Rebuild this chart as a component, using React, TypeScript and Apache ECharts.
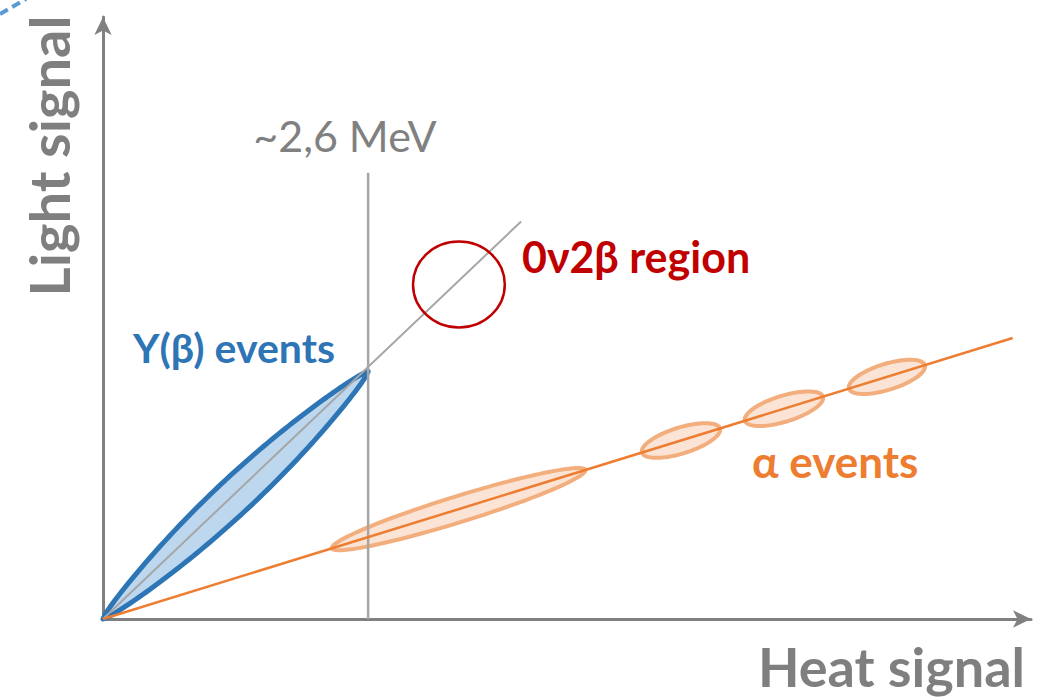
import React, { useEffect, useRef } from "react";
import * as echarts from "echarts";

// ---- values (axis units: heat in MeV, light in arbitrary units) ----
const X_MAX = 9.1;
const Y_MAX = 6.3;
const gammaBand = [[0, 0, 2.6, 2.59]]; // start x, start y, end x, end y
const gammaLine = [[0, 0], [4.1, 4.16]];
const thresholdLine = [[2.6, 0], [2.6, 4.67]];
const alphaLine = [[0, 0], [8.92, 2.94]];
const alphaClusters = [
  [2.245, 0.74, 4.73, 1.56],
  [5.285, 1.742, 6.05, 1.994],
  [6.295, 2.075, 7.06, 2.327],
  [7.315, 2.411, 8.06, 2.657],
];
const regionCircle = [[3.49, 3.5, 0.45]]; // center x, center y, radius
const labels = {
  yName: "Light signal",
  xName: "Heat signal",
  threshold: "~2,6 MeV",
  region: "0ν2β region",
  gamma: "Υ(β) events",
  alpha: "α events",
};

const FONT = "Lato, 'Open Sans', sans-serif";

function lensItem(params: any, api: any) {
  const p0 = api.coord([api.value(0), api.value(1)]);
  const p1 = api.coord([api.value(2), api.value(3)]);
  const dx = p1[0] - p0[0];
  const dy = p1[1] - p0[1];
  const L = Math.hypot(dx, dy);
  const ux = dx / L, uy = dy / L;
  const nx = -uy, ny = ux;
  const h = 18;
  const N = 80;
  const pts: number[][] = [];
  for (let i = 0; i <= N; i++) {
    const t = i / N;
    const off = h * Math.pow(Math.sin(Math.PI * t), 0.7);
    pts.push([p0[0] + ux * t * L + nx * off, p0[1] + uy * t * L + ny * off]);
  }
  for (let i = N; i >= 0; i--) {
    const t = i / N;
    const off = h * Math.pow(Math.sin(Math.PI * t), 0.7);
    pts.push([p0[0] + ux * t * L - nx * off, p0[1] + uy * t * L - ny * off]);
  }
  return {
    type: "polygon",
    shape: { points: pts },
    style: { fill: "#bdd7ee", stroke: "#2e75b6", lineWidth: 5, lineJoin: "round" },
  };
}

function ellipseItem(params: any, api: any) {
  const p0 = api.coord([api.value(0), api.value(1)]);
  const p1 = api.coord([api.value(2), api.value(3)]);
  const dx = p1[0] - p0[0];
  const dy = p1[1] - p0[1];
  const L = Math.hypot(dx, dy);
  const ux = dx / L, uy = dy / L;
  const nx = -uy, ny = ux;
  const cx = (p0[0] + p1[0]) / 2, cy = (p0[1] + p1[1]) / 2;
  const a = L / 2, b = 13;
  const pts: number[][] = [];
  const N = 90;
  for (let i = 0; i < N; i++) {
    const th = (2 * Math.PI * i) / N;
    pts.push([
      cx + ux * a * Math.cos(th) + nx * b * Math.sin(th),
      cy + uy * a * Math.cos(th) + ny * b * Math.sin(th),
    ]);
  }
  return {
    type: "polygon",
    shape: { points: pts },
    style: { fill: "#fbe4d5", stroke: "#f3ae7e", lineWidth: 4 },
  };
}

function circleItem(params: any, api: any) {
  const x = api.value(0), y = api.value(1), r = api.value(2);
  const c = api.coord([x, y]);
  const px = api.coord([x + r, y]);
  const py = api.coord([x, y + r]);
  return {
    type: "ellipse",
    shape: { cx: c[0], cy: c[1], rx: px[0] - c[0], ry: c[1] - py[1] },
    style: { fill: "none", stroke: "#c00000", lineWidth: 2.5 },
  };
}

export default function App() {
  const ref = useRef<HTMLDivElement>(null);
  useEffect(() => {
    if (!ref.current) return;
    const chart = echarts.init(ref.current, undefined, { renderer: "svg" });
    const axisLine = {
      show: true,
      symbol: ["none", "arrow"],
      symbolSize: [13, 18],
      lineStyle: { color: "#808080", width: 3 },
    };
    chart.setOption({
      animation: false,
      backgroundColor: "#ffffff",
      grid: { left: 103, right: 22, top: 17, bottom: 79, containLabel: false },
      xAxis: {
        type: "value",
        min: 0,
        max: X_MAX,
        axisLine,
        axisTick: { show: false },
        axisLabel: { show: false },
        splitLine: { show: false },
      },
      yAxis: {
        type: "value",
        min: 0,
        max: Y_MAX,
        axisLine,
        axisTick: { show: false },
        axisLabel: { show: false },
        splitLine: { show: false },
      },
      series: [
        {
          type: "custom",
          renderItem: lensItem,
          data: gammaBand,
          clip: false,
          silent: true,
          z: 2,
        },
        {
          type: "custom",
          renderItem: ellipseItem,
          data: alphaClusters,
          clip: false,
          silent: true,
          z: 2,
        },
        {
          type: "line",
          data: thresholdLine,
          showSymbol: false,
          silent: true,
          lineStyle: { color: "#a6a6a6", width: 2.5 },
          z: 3,
        },
        {
          type: "line",
          data: gammaLine,
          showSymbol: false,
          silent: true,
          lineStyle: { color: "#a6a6a6", width: 2 },
          z: 3,
        },
        {
          type: "line",
          data: alphaLine,
          showSymbol: false,
          silent: true,
          lineStyle: { color: "#ed7d31", width: 2.5 },
          z: 4,
        },
        {
          type: "custom",
          renderItem: circleItem,
          data: regionCircle,
          clip: false,
          silent: true,
          z: 4,
        },
      ],
      graphic: [
        {
          type: "line",
          shape: { x1: 0, y1: 14, x2: 26, y2: -1 },
          style: { stroke: "#5b9bd5", lineWidth: 4, lineDash: [9, 5] },
        },
        {
          type: "text",
          x: 48,
          y: 156,
          rotation: Math.PI / 2,
          style: {
            text: labels.yName,
            font: `bold 56px ${FONT}`,
            fill: "#7f7f7f",
            align: "center",
            verticalAlign: "middle",
          },
        },
        {
          type: "text",
          x: 1025,
          y: 666,
          style: {
            text: labels.xName,
            font: `bold 54px ${FONT}`,
            fill: "#7f7f7f",
            align: "right",
            verticalAlign: "middle",
          },
        },
        {
          type: "text",
          x: 345,
          y: 135,
          style: {
            text: labels.threshold,
            font: `normal 43px ${FONT}`,
            fill: "#808080",
            align: "center",
            verticalAlign: "middle",
          },
        },
        {
          type: "text",
          x: 522,
          y: 256,
          style: {
            text: labels.region,
            font: `bold 43px ${FONT}`,
            fill: "#c00000",
            align: "left",
            verticalAlign: "middle",
          },
        },
        {
          type: "text",
          x: 133,
          y: 347,
          style: {
            text: labels.gamma,
            font: `bold 41px ${FONT}`,
            fill: "#2e75b6",
            align: "left",
            verticalAlign: "middle",
          },
        },
        {
          type: "text",
          x: 752,
          y: 461,
          style: {
            text: labels.alpha,
            font: `bold 44px ${FONT}`,
            fill: "#ed7d31",
            align: "left",
            verticalAlign: "middle",
          },
        },
      ],
    });
    return () => chart.dispose();
  }, []);
  return (
    <div
      ref={ref}
      style={{ position: "absolute", left: 0, top: 0, width: 1053, height: 698 }}
    />
  );
}
